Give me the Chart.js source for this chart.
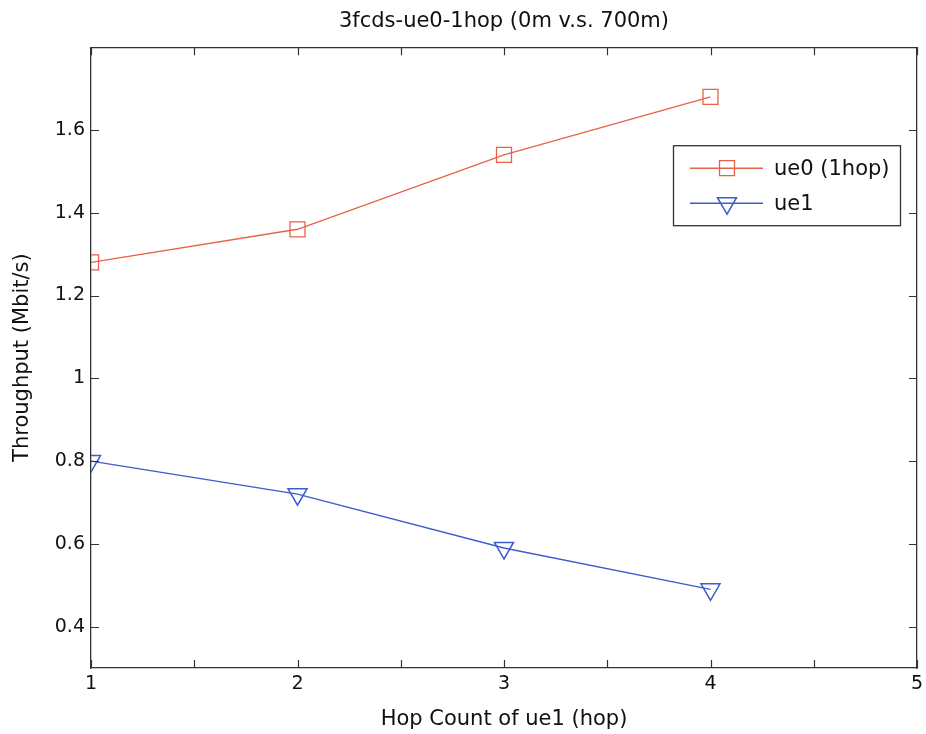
<!DOCTYPE html>
<html>
<head>
<meta charset="utf-8">
<script src="https://cdn.jsdelivr.net/npm/chart.js@4/dist/chart.umd.min.js"></script>
<style>
  html, body { margin: 0; padding: 0; background: #fff; }
  #wrap { width: 926px; height: 734px; position: relative; }
</style>
</head>
<body>
<div id="wrap"><canvas id="hopChart"></canvas></div>
<script>
// values
const hops = [1, 2, 3, 4];
const ue0Throughput = [1.28, 1.36, 1.54, 1.68];
const ue1Throughput = [0.80, 0.72, 0.59, 0.49];
const seriesNames = ['ue0 (1hop)', 'ue1'];
const xTicks = [1, 1.5, 2, 2.5, 3, 3.5, 4, 4.5, 5];
const yTicks = [0.4, 0.6, 0.8, 1, 1.2, 1.4, 1.6];

const RED = 'rgb(232, 98, 74)';
const BLUE = 'rgb(62, 92, 200)';
const AXIS = '#333';
const FONT = 'DejaVu Sans';

function toPoints(ys) {
    return hops.map((h, i) => ({ x: h, y: ys[i] }));
}

// matlab style ticks pointing into the plot
const inwardTicks = {
    id: 'inwardTicks',
    afterDraw(chart) {
        const { ctx, chartArea: a, scales } = chart;
        const len = 8;
        ctx.save();
        ctx.strokeStyle = AXIS;
        ctx.lineWidth = 1.2;
        ctx.beginPath();
        scales.x.ticks.forEach(t => {
            const px = Math.round(scales.x.getPixelForValue(t.value)) + 0.5;
            ctx.moveTo(px, a.bottom); ctx.lineTo(px, a.bottom - len);
            ctx.moveTo(px, a.top); ctx.lineTo(px, a.top + len);
        });
        scales.y.ticks.forEach(t => {
            const py = Math.round(scales.y.getPixelForValue(t.value)) + 0.5;
            ctx.moveTo(a.left, py); ctx.lineTo(a.left + len, py);
            ctx.moveTo(a.right, py); ctx.lineTo(a.right - len, py);
        });
        ctx.stroke();
        ctx.restore();
    }
};

// boxed legend with line + marker samples
const boxLegend = {
    id: 'boxLegend',
    afterDraw(chart) {
        const { ctx, chartArea: a } = chart;
        const w = 227, h = 80;
        const bx = a.right - 17 - w, by = a.top + 98;
        ctx.save();
        ctx.fillStyle = '#fff';
        ctx.fillRect(bx, by, w, h);
        ctx.strokeStyle = AXIS;
        ctx.lineWidth = 1.3;
        ctx.strokeRect(bx + 0.5, by + 0.5, w, h);
        ctx.font = '21px "' + FONT + '"';
        ctx.textBaseline = 'middle';
        chart.data.datasets.forEach((ds, i) => {
            const cy = by + 23 + i * 35;
            ctx.strokeStyle = ds.borderColor;
            ctx.lineWidth = ds.borderWidth;
            ctx.beginPath();
            ctx.moveTo(bx + 17, cy); ctx.lineTo(bx + 90, cy);
            ctx.stroke();
            ctx.fillStyle = 'rgba(0,0,0,0)';
            ctx.lineWidth = ds.pointBorderWidth;
            Chart.helpers.drawPoint(ctx, {
                pointStyle: ds.pointStyle,
                rotation: ds.pointRotation || 0,
                borderWidth: ds.pointBorderWidth,
                radius: ds.pointRadius
            }, bx + 54, cy);
            ctx.fillStyle = '#111';
            ctx.fillText(ds.label, bx + 101, cy + 1);
        });
        ctx.restore();
    }
};

const ctx = document.getElementById('hopChart').getContext('2d');
const myChart = new Chart(ctx, {
    type: 'line',
    data: {
        datasets: [{
            label: seriesNames[0],
            data: toPoints(ue0Throughput),
            borderColor: RED,
            borderWidth: 1.4,
            pointStyle: 'rect',
            pointRadius: 10.6,
            pointBorderWidth: 1.3,
            pointBackgroundColor: 'rgba(0,0,0,0)',
            pointBorderColor: RED
        }, {
            label: seriesNames[1],
            data: toPoints(ue1Throughput),
            borderColor: BLUE,
            borderWidth: 1.4,
            pointStyle: 'triangle',
            pointRotation: 180,
            pointRadius: 11,
            pointBorderWidth: 1.5,
            pointBackgroundColor: 'rgba(0,0,0,0)',
            pointBorderColor: BLUE
        }]
    },
    options: {
        responsive: true,
        maintainAspectRatio: false,
        animation: false,
        layout: { padding: 0, autoPadding: false },
        plugins: {
            legend: { display: false },
            tooltip: { enabled: false },
            title: {
                display: true,
                fullSize: false,
                text: '3fcds-ue0-1hop (0m v.s. 700m)',
                color: '#111',
                font: { family: FONT, size: 21, weight: 'normal', lineHeight: 1.2 },
                padding: { top: 9, bottom: 13 }
            }
        },
        scales: {
            x: {
                type: 'linear',
                position: 'bottom',
                min: 1,
                max: 5,
                afterFit(scale) {
                    scale.height = 66;
                    scale.paddingLeft = 0;
                    scale.paddingRight = 0;
                },
                afterBuildTicks(scale) { scale.ticks = xTicks.map(v => ({ value: v })); },
                grid: { display: false, drawTicks: false },
                border: { display: true, color: AXIS, width: 1.3 },
                ticks: {
                    padding: 5,
                    color: '#111',
                    maxRotation: 0,
                    autoSkip: false,
                    font: { family: FONT, size: 19 },
                    callback: v => Number.isInteger(v) ? String(v) : ''
                },
                title: {
                    display: true,
                    text: 'Hop Count of ue1 (hop)',
                    color: '#111',
                    font: { family: FONT, size: 21, lineHeight: 1.2 },
                    padding: { top: 0, bottom: 2 }
                }
            },
            xTop: {
                type: 'linear',
                position: 'top',
                min: 1,
                max: 5,
                afterFit(scale) {
                    scale.height = 0;
                    scale.paddingLeft = 0;
                    scale.paddingRight = 0;
                },
                grid: { display: false, drawTicks: false },
                border: { display: true, color: AXIS, width: 1.3 },
                ticks: { display: false }
            },
            y: {
                type: 'linear',
                position: 'left',
                min: 0.3,
                max: 1.8,
                afterFit(scale) {
                    scale.width = 91;
                    scale.paddingTop = 0;
                    scale.paddingBottom = 0;
                },
                afterBuildTicks(scale) { scale.ticks = yTicks.map(v => ({ value: v })); },
                grid: { display: false, drawTicks: false },
                border: { display: true, color: AXIS, width: 1.3 },
                ticks: {
                    padding: 6,
                    color: '#111',
                    font: { family: FONT, size: 19 },
                    callback: v => String(v)
                },
                title: {
                    display: true,
                    text: 'Throughput (Mbit/s)',
                    color: '#111',
                    font: { family: FONT, size: 21, lineHeight: 1.2 },
                    padding: { top: 10, bottom: 0 }
                }
            },
            yRight: {
                type: 'linear',
                position: 'right',
                min: 0.3,
                max: 1.8,
                afterFit(scale) {
                    scale.width = 9;
                    scale.paddingTop = 0;
                    scale.paddingBottom = 0;
                },
                grid: { display: false, drawTicks: false },
                border: { display: true, color: AXIS, width: 1.3 },
                ticks: { display: false }
            }
        }
    },
    plugins: [inwardTicks, boxLegend]
});
</script>
</body>
</html>
